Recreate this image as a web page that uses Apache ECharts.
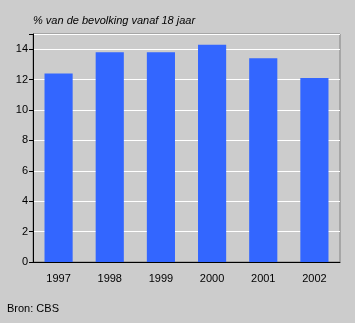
<!DOCTYPE html>
<html><head><meta charset="utf-8">
<script src="https://cdn.jsdelivr.net/npm/echarts@6/dist/echarts.min.js"></script>
<style>html,body{margin:0;padding:0;background:#cccccc;}#c{width:355px;height:323px;}</style>
</head><body><div id="c"></div>
<script>
var categories = ['1997','1998','1999','2000','2001','2002'];
var values = [12.4, 13.8, 13.8, 14.3, 13.4, 12.1];
var yTicks = [0, 2, 4, 6, 8, 10, 12, 14];
var titleText = '% van de bevolking vanaf 18 jaar';
var sourceText = 'Bron: CBS';

var chart = echarts.init(document.getElementById('c'), null, {renderer: 'canvas'});
chart.setOption({
  backgroundColor: '#cccccc',
  animation: false,
  title: [
    {text: titleText, left: 33, top: 15, padding: 0, textStyle: {fontFamily: 'Arial, Liberation Sans', fontStyle: 'italic', fontWeight: 'normal', fontSize: 11, color: '#000'}},
    {text: sourceText, left: 7, top: 303, padding: 0, textStyle: {fontFamily: 'Arial, Liberation Sans', fontWeight: 'normal', fontSize: 11, color: '#000'}}
  ],
  grid: {left: 33, right: 15, top: 34, bottom: 61, show: true, borderColor: '#808080', borderWidth: 1, backgroundColor: 'transparent'},
  xAxis: {
    type: 'category', data: categories,
    axisLine: {lineStyle: {color: '#000', width: 1}},
    axisTick: {show: false},
    axisLabel: {color: '#000', fontSize: 11, fontFamily: 'Arial, Liberation Sans', margin: 11}
  },
  yAxis: {
    type: 'value', min: 0, max: 15, interval: 2,
    axisLine: {show: true, lineStyle: {color: '#000', width: 1}},
    axisTick: {show: true, length: 4, lineStyle: {color: '#000'}},
    axisLabel: {color: '#000', fontSize: 11, fontFamily: 'Arial, Liberation Sans', margin: 5,
      formatter: function(v){ return yTicks.indexOf(v) >= 0 ? String(v) : ''; }},
    splitLine: {show: true, lineStyle: {color: '#ffffff', width: 1}}
  },
  series: [{
    type: 'bar', data: values, barWidth: '55%',
    itemStyle: {color: '#3366ff'}
  }]
});
</script></body></html>
